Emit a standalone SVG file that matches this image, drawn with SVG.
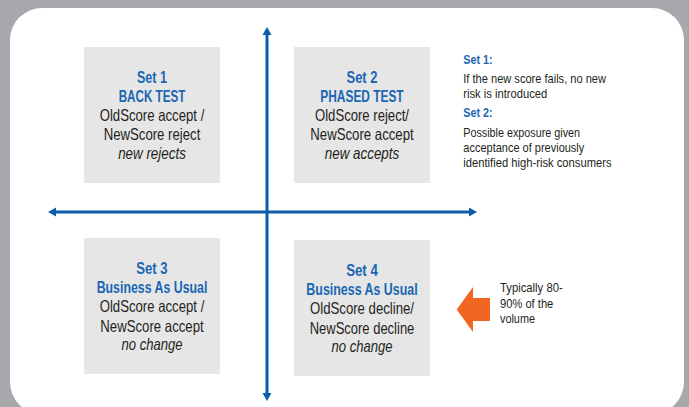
<svg xmlns="http://www.w3.org/2000/svg" width="689" height="407" viewBox="0 0 689 407">
<style>
.box{fill:#e6e6e6}
.t{font-family:"Liberation Sans",Arial,sans-serif;font-size:16.5px;fill:#231f20;text-anchor:middle}
.h{font-weight:bold;fill:#1a67b3}
.i{font-style:italic}
.s{font-family:"Liberation Sans",Arial,sans-serif;font-size:13px;fill:#231f20}
.sh{font-weight:bold;fill:#1a67b3}
.ax{stroke:#0b5daa;stroke-width:3;fill:none}
.ah{fill:#0b5daa}
</style>
<rect x="0" y="0" width="689" height="407" fill="#a7a8ab"/>
<rect x="10" y="8" width="674" height="406" rx="32" fill="#ffffff"/>
<g id="connectors">
<line class="ax" x1="267" y1="32" x2="267" y2="396"/>
<polygon class="ah" points="267,27 262.5,35 271.5,35"/>
<polygon class="ah" points="267,401 262.5,393 271.5,393"/>
<line class="ax" x1="53" y1="212" x2="472" y2="212"/>
<polygon class="ah" points="48,212 56,207.5 56,216.5"/>
<polygon class="ah" points="477,212 469,207.5 469,216.5"/>
</g>
<g id="set1">
<rect class="box" x="84" y="47" width="136" height="136"/>
<text class="t h" x="152" y="83" textLength="30" lengthAdjust="spacingAndGlyphs">Set 1</text>
<text class="t h" x="152" y="102" textLength="66.7" lengthAdjust="spacingAndGlyphs">BACK TEST</text>
<text class="t" x="152" y="121" textLength="104.7" lengthAdjust="spacingAndGlyphs">OldScore accept /</text>
<text class="t" x="152" y="140" textLength="96.7" lengthAdjust="spacingAndGlyphs">NewScore reject</text>
<text class="t i" x="152" y="158.5" textLength="67.7" lengthAdjust="spacingAndGlyphs">new rejects</text>
</g>
<g id="set2">
<rect class="box" x="294" y="47" width="136" height="136"/>
<text class="t h" x="362" y="83" textLength="31" lengthAdjust="spacingAndGlyphs">Set 2</text>
<text class="t h" x="362" y="102" textLength="83.3" lengthAdjust="spacingAndGlyphs">PHASED TEST</text>
<text class="t" x="362" y="121" textLength="94" lengthAdjust="spacingAndGlyphs">OldScore reject/</text>
<text class="t" x="362" y="140" textLength="103.3" lengthAdjust="spacingAndGlyphs">NewScore accept</text>
<text class="t i" x="362" y="158.5" textLength="74.3" lengthAdjust="spacingAndGlyphs">new accepts</text>
</g>
<g id="set3">
<rect class="box" x="84" y="238" width="136" height="136"/>
<text class="t h" x="152" y="274" textLength="31.3" lengthAdjust="spacingAndGlyphs">Set 3</text>
<text class="t h" x="152" y="293" textLength="110.7" lengthAdjust="spacingAndGlyphs">Business As Usual</text>
<text class="t" x="152" y="312" textLength="104.7" lengthAdjust="spacingAndGlyphs">OldScore accept /</text>
<text class="t" x="152" y="331.5" textLength="103.3" lengthAdjust="spacingAndGlyphs">NewScore accept</text>
<text class="t i" x="152" y="349.5" textLength="61" lengthAdjust="spacingAndGlyphs">no change</text>
</g>
<g id="set4">
<rect class="box" x="294" y="240" width="136" height="136"/>
<text class="t h" x="362" y="276" textLength="31.7" lengthAdjust="spacingAndGlyphs">Set 4</text>
<text class="t h" x="362" y="295" textLength="111.3" lengthAdjust="spacingAndGlyphs">Business As Usual</text>
<text class="t" x="362" y="314" textLength="104" lengthAdjust="spacingAndGlyphs">OldScore decline/</text>
<text class="t" x="362" y="333.5" textLength="104.7" lengthAdjust="spacingAndGlyphs">NewScore decline</text>
<text class="t i" x="362" y="351.5" textLength="61" lengthAdjust="spacingAndGlyphs">no change</text>
</g>
<g id="notes">
<text class="s sh" x="463.3" y="64" textLength="29.3" lengthAdjust="spacingAndGlyphs">Set 1:</text>
<text class="s" x="463.3" y="83" textLength="142.7" lengthAdjust="spacingAndGlyphs">If the new score fails, no new</text>
<text class="s" x="463.3" y="98" textLength="84" lengthAdjust="spacingAndGlyphs">risk is introduced</text>
<text class="s sh" x="463.3" y="117" textLength="29.3" lengthAdjust="spacingAndGlyphs">Set 2:</text>
<text class="s" x="463.3" y="137" textLength="116.7" lengthAdjust="spacingAndGlyphs">Possible exposure given</text>
<text class="s" x="463.3" y="151.5" textLength="121" lengthAdjust="spacingAndGlyphs">acceptance of previously</text>
<text class="s" x="463.3" y="166.5" textLength="148.3" lengthAdjust="spacingAndGlyphs">identified high-risk consumers</text>
</g>
<g id="volume">
<polygon fill="#f26522" points="456.7,309.5 473,287 473,298 490,298 490,321 473,321 473,332"/>
<text class="s" x="500" y="292" textLength="62.7" lengthAdjust="spacingAndGlyphs">Typically 80-</text>
<text class="s" x="500" y="307.5" textLength="53.3" lengthAdjust="spacingAndGlyphs">90% of the</text>
<text class="s" x="500" y="323" textLength="35" lengthAdjust="spacingAndGlyphs">volume</text>
</g>
</svg>
